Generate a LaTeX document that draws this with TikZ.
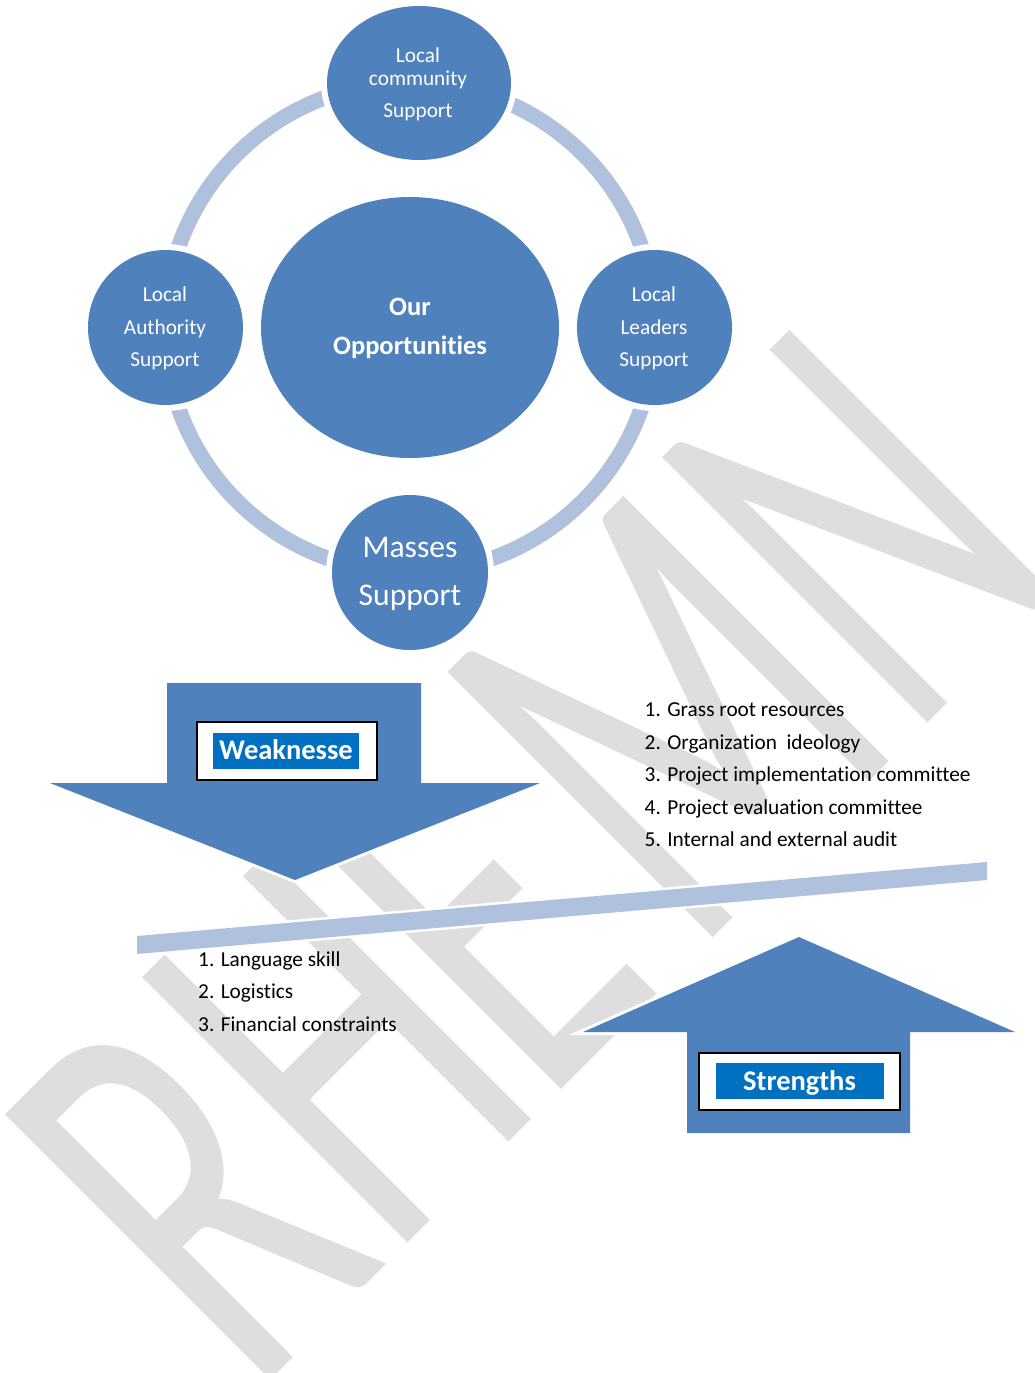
\documentclass[tikz,border=0pt]{standalone}
\usepackage{fontspec}
\setmainfont{Carlito}[Ligatures={NoCommon,NoContextual}]
\newfontfamily\wmfont{Carlito}[Ligatures={NoCommon,NoContextual}]
\usetikzlibrary{shapes.geometric}
\definecolor{circblue}{RGB}{79,129,189}
\definecolor{ringblue}{RGB}{176,193,222}
\definecolor{labelblue}{RGB}{0,112,192}
\definecolor{wmgray}{RGB}{222,222,222}
\newcommand{\wmglyph}[1]{\scalebox{0.615}[1]{\wmfont\fontsize{585}{600}\selectfont #1}}
\tikzset{
  halo/.style={preaction={draw=white, line width=#1, line join=miter}},
  bubble/.style={ellipse, fill=circblue, halo=12, inner sep=0, outer sep=0},
  intext/.style={text=white, anchor=base, inner sep=0},
  smalltext/.style={intext, font=\fontsize{21.3}{25}\selectfont},
  listtext/.style={anchor=base west, inner sep=0, text=black, font=\fontsize{21.3}{25}\selectfont},
  arrowshape/.style={fill=circblue, halo=6},
  labelframe/.style={fill=white, draw=black, line width=2},
  labelfill/.style={fill=labelblue},
  labeltext/.style={text=white, anchor=base, inner sep=0, font=\fontsize{28.5}{32}\bfseries\selectfont},
  wmletter/.style={anchor=base west, rotate=45, inner sep=0, text=wmgray},
}
\begin{document}
\begin{tikzpicture}[x=1pt,y=-1pt]
\path[fill=white] (0,0) rectangle (1035,1373);
\useasboundingbox (0,0) rectangle (1035,1373);

% watermark
\begin{scope}
\clip (0,0) rectangle (1035,1373);
\node[wmletter] (wmR) at (252,1399) {\wmglyph{R}};
\node[wmletter] (wmH) at (389.9,1261.1) {\wmglyph{H}};
\node[wmletter] (wmE) at (543.3,1107.7) {\wmglyph{E}};
\node[wmletter] (wmM) at (692.5,958.5) {\wmglyph{M}};
\node[wmletter] (wmN) at (909.6,741.4) {\wmglyph{N}};
\end{scope}

% ring
\coordinate (ringc) at (410,327.5);
\draw[ringblue, line width=15.5] (ringc) circle[radius=245pt];

% circles
\node[bubble, minimum width=184, minimum height=154] (topc) at (419,83) {};
\node[bubble, minimum width=155, minimum height=155] (leftc) at (165.5,327.5) {};
\node[bubble, minimum width=155, minimum height=155] (rightc) at (654.5,327.5) {};
\node[bubble, minimum width=156, minimum height=155] (botc) at (410,572.5) {};
\node[bubble, minimum width=298, minimum height=261] (cenc) at (410,327.5) {};

% circle texts
\node[smalltext] (t1) at (418,62) {Local};
\node[smalltext] (t2) at (418,85.5) {community};
\node[smalltext] (t3) at (418,117) {Support};
\node[smalltext] (l1) at (165,301.5) {Local};
\node[smalltext] (l2) at (165,334.8) {Authority};
\node[smalltext] (l3) at (165,366.5) {Support};
\node[smalltext] (r1) at (654,301.5) {Local};
\node[smalltext] (r2) at (654,334.8) {Leaders};
\node[smalltext] (r3) at (654,366.5) {Support};
\node[intext, font=\fontsize{26.5}{30}\bfseries\selectfont] (c1) at (410,315.3) {Our};
\node[intext, font=\fontsize{26.5}{30}\bfseries\selectfont] (c2) at (410,354.3) {Opportunities};
\node[intext, font=\fontsize{31.6}{36}\selectfont] (b1) at (410,557.2) {Masses};
\node[intext, font=\fontsize{31.6}{36}\selectfont] (b2) at (410,605) {Support};

% weakness arrow (down)
\fill[arrowshape] (167,683) -- (421,683) -- (421,783) -- (540,783) -- (295,880)
  -- (50,783) -- (167,783) -- cycle;
\draw[labelframe] (196.5,722) rectangle (376.5,779.5);
\fill[labelfill] (212.7,733.3) rectangle (358.5,769);
\node[labeltext] (weak) at (286,759.3) {Weaknesse};

% strengths arrow (up)
\fill[arrowshape] (687,1133) -- (910,1133) -- (910,1032) -- (1015,1032) -- (799,937)
  -- (583,1032) -- (687,1032) -- cycle;
\draw[labelframe] (698.5,1052.7) rectangle (899.5,1109.5);
\fill[labelfill] (716,1062.7) rectangle (884,1098.7);
\node[labeltext] (strong) at (799.5,1090) {Strengths};

% dividing line
\fill[ringblue, halo=5] (137,936) -- (987,862) -- (987,880) -- (137,954) -- cycle;

% lists
\node[listtext] (o1) at (644.5,716.7) {1. Grass root resources};
\node[listtext] (o2) at (644.5,749) {2. Organization~ ideology};
\node[listtext] (o3) at (644.5,781.7) {3. Project implementation committee};
\node[listtext] (o4) at (644.5,814) {4. Project evaluation committee};
\node[listtext] (o5) at (644.5,846.7) {5. Internal and external audit};

\node[listtext] (w1) at (198,966.7) {1. Language skill};
\node[listtext] (w2) at (198,998.5) {2. Logistics};
\node[listtext] (w3) at (198,1031) {3. Financial constraints};
\end{tikzpicture}
\end{document}
